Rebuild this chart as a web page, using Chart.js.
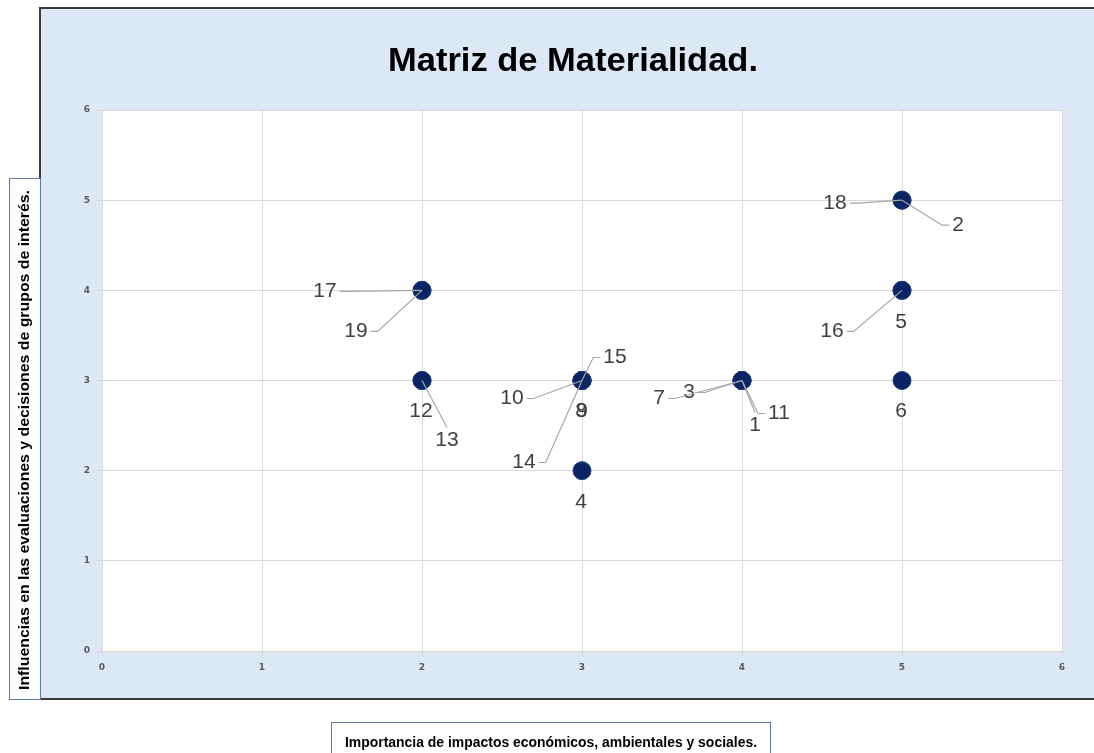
<!DOCTYPE html>
<html>
<head>
<meta charset="utf-8">
<script src="https://cdn.jsdelivr.net/npm/chart.js@4"></script>
<style>
  html, body { margin: 0; padding: 0; background: #ffffff; }
  canvas { display: block; }
</style>
</head>
<body>
<canvas id="matriz" width="1094" height="753"></canvas>
<script>
// Datos de la matriz (un punto por tema)
const temas = ['1','2','3','4','5','6','7','8','9','10','11','12','13','14','15','16','17','18','19'];
const importancia = [4, 5, 4, 3, 5, 5, 4, 3, 3, 3, 4, 2, 2, 3, 3, 5, 2, 5, 2];
const influencia  = [3, 5, 3, 2, 4, 3, 3, 3, 3, 3, 3, 3, 3, 3, 3, 4, 4, 5, 4];
const ticksX = [0, 1, 2, 3, 4, 5, 6];
const ticksY = [0, 1, 2, 3, 4, 5, 6];

const titulo = 'Matriz de Materialidad.';
const tituloX = 'Importancia de impactos económicos, ambientales y sociales.';
const tituloY = 'Influencias en las evaluaciones y decisiones de grupos de interés.';

// Posición de cada etiqueta respecto a su punto (px) y lado de la línea guía
const posEtiquetas = [
    [13, 45, 't'], [56, 25, 'l'], [-53, 12, 'r'], [-1, 32, null], [-1, 32, null],
    [-1, 31, null], [-83, 18, 'r'], [-1, 31, null], [0, 31, null], [-70, 18, 'r'],
    [37, 33, 'l'], [-1, 31, null], [25, 60, 't'], [-58, 82, 'r'], [33, -23, 'l'],
    [-70, 41, 'r'], [-97, 1, 'r'], [-67, 3, 'r'], [-66, 41, 'r']
];

// Dibuja un texto ajustado a un ancho dado (el original está algo comprimido)
function textoAjustado(ctx, texto, x, y, ancho) {
    const w = ctx.measureText(texto).width;
    ctx.save();
    ctx.translate(x, y);
    ctx.scale(ancho / w, 1);
    ctx.fillText(texto, 0, 0);
    ctx.restore();
}

// Fondo, marcos y títulos alrededor del gráfico
const marcoPlugin = {
    id: 'marco',
    beforeDraw(chart) {
        const ctx = chart.ctx;
        const area = chart.chartArea;
        ctx.save();
        ctx.fillStyle = '#ffffff';
        ctx.fillRect(0, 0, chart.width, chart.height);
        ctx.fillStyle = '#dde8f6';
        ctx.fillRect(40, 8, chart.width - 40, 691);
        ctx.strokeStyle = '#3a3a3a';
        ctx.lineWidth = 2;
        ctx.beginPath();
        ctx.moveTo(chart.width + 5, 8);
        ctx.lineTo(40, 8);
        ctx.lineTo(40, 699);
        ctx.lineTo(chart.width + 5, 699);
        ctx.stroke();
        ctx.fillStyle = '#ffffff';
        ctx.fillRect(area.left, area.top, area.right - area.left, area.bottom - area.top);
        ctx.restore();
    },
    afterDraw(chart) {
        const ctx = chart.ctx;
        ctx.save();
        // título
        ctx.fillStyle = '#000000';
        ctx.font = 'bold 34px "Liberation Sans", Arial, sans-serif';
        ctx.textAlign = 'center';
        ctx.textBaseline = 'alphabetic';
        textoAjustado(ctx, titulo, 573, 71, 370);

        // título del eje Y en su recuadro
        ctx.textBaseline = 'middle';
        ctx.fillStyle = '#ffffff';
        ctx.fillRect(9, 178, 31, 521);
        ctx.strokeStyle = '#5b7aa6';
        ctx.lineWidth = 1;
        ctx.strokeRect(9.5, 178.5, 31, 521);
        ctx.fillStyle = '#000000';
        ctx.font = 'bold 15px "Liberation Sans", Arial, sans-serif';
        ctx.translate(25, 440);
        ctx.rotate(-Math.PI / 2);
        textoAjustado(ctx, tituloY, 0, 0, 500);
        ctx.setTransform(1, 0, 0, 1, 0, 0);

        // título del eje X en su recuadro
        ctx.fillStyle = '#ffffff';
        ctx.fillRect(331, 722, 439, 40);
        ctx.strokeStyle = '#5b7aa6';
        ctx.strokeRect(331.5, 722.5, 439, 40);
        ctx.fillStyle = '#000000';
        ctx.font = 'bold 14px "Liberation Sans", Arial, sans-serif';
        textoAjustado(ctx, tituloX, 551, 743, 412);
        ctx.restore();
    },
    afterDatasetsDraw(chart) {
        const ctx = chart.ctx;
        const meta = chart.getDatasetMeta(0);
        ctx.save();
        ctx.font = '21px "Liberation Sans", Arial, sans-serif';
        ctx.textAlign = 'center';
        ctx.textBaseline = 'middle';
        ctx.strokeStyle = '#a6a6a6';
        ctx.lineWidth = 1.2;
        meta.data.forEach((pt, i) => {
            const [dx, dy, lado] = posEtiquetas[i];
            const lx = pt.x + dx;
            const ly = pt.y + dy;
            const w = ctx.measureText(temas[i]).width;
            if (lado) {
                ctx.beginPath();
                if (lado === 'r') {
                    ctx.moveTo(lx + w / 2 + 3, ly);
                    ctx.lineTo(lx + w / 2 + 10, ly);
                } else if (lado === 'l') {
                    ctx.moveTo(lx - w / 2 - 3, ly);
                    ctx.lineTo(lx - w / 2 - 10, ly);
                } else {
                    ctx.moveTo(lx, ly - 13);
                }
                ctx.lineTo(pt.x, pt.y);
                ctx.stroke();
            }
            ctx.fillStyle = '#404040';
            ctx.fillText(temas[i], lx, ly);
        });
        ctx.restore();
    }
};

const ctx = document.getElementById('matriz').getContext('2d');
const matrizChart = new Chart(ctx, {
    type: 'scatter',
    data: {
        datasets: [
            {
                label: 'Temas',
                data: importancia.map((x, i) => ({ x: x, y: influencia[i] })),
                backgroundColor: '#0b2463',
                borderColor: '#1d3a7c',
                borderWidth: 1,
                pointRadius: 9,
                pointHoverRadius: 9
            }
        ]
    },
    options: {
        responsive: false,
        animation: false,
        devicePixelRatio: 1,
        layout: {
            padding: { left: 40, right: 32, top: 110, bottom: 62 }
        },
        scales: {
            x: {
                type: 'linear',
                min: ticksX[0],
                max: ticksX[ticksX.length - 1],
                afterBuildTicks: (scale) => { scale.ticks = ticksX.map(v => ({ value: v })); },
                afterFit: (scale) => { scale.height = 40; },
                grid: { color: '#d9d9d9', tickLength: 5, tickColor: '#d9d9d9' },
                border: { color: '#d9d3c7' },
                ticks: {
                    color: '#595959',
                    padding: 6,
                    font: { family: '"DejaVu Sans", sans-serif', size: 9, weight: 'bold' }
                }
            },
            y: {
                type: 'linear',
                min: ticksY[0],
                max: ticksY[ticksY.length - 1],
                afterBuildTicks: (scale) => { scale.ticks = ticksY.map(v => ({ value: v })); },
                afterFit: (scale) => { scale.width = 62; },
                grid: { color: '#d9d9d9', tickLength: 5, tickColor: '#d9d9d9' },
                border: { color: '#d9d9d9' },
                ticks: {
                    color: '#595959',
                    padding: 7,
                    font: { family: '"DejaVu Sans", sans-serif', size: 9, weight: 'bold' }
                }
            }
        },
        plugins: {
            legend: { display: false },
            tooltip: { enabled: false }
        }
    },
    plugins: [marcoPlugin]
});
</script>
</body>
</html>
